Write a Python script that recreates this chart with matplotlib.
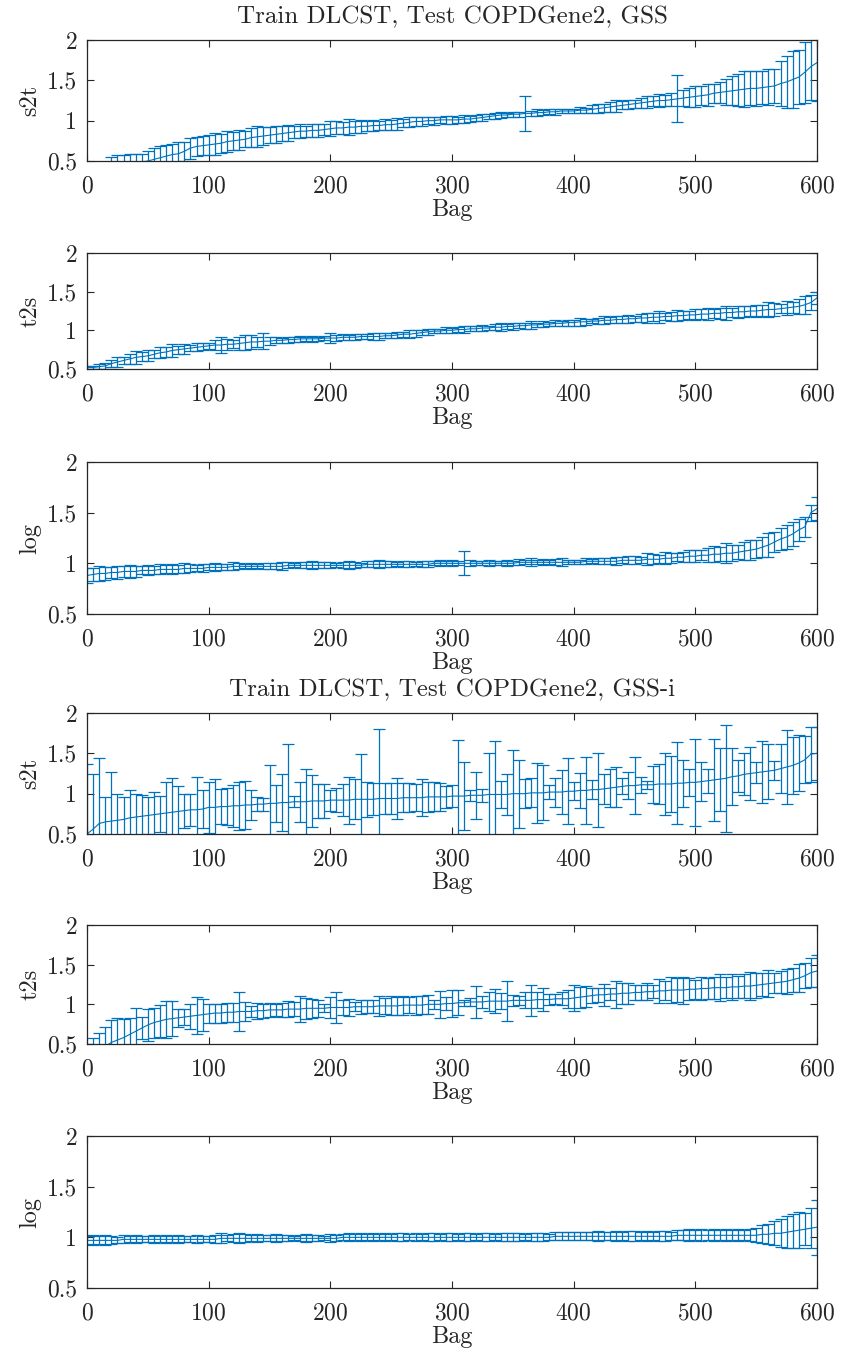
import numpy as np
import matplotlib
matplotlib.use("Agg")
import matplotlib.pyplot as plt

plt.rcParams['font.family'] = 'serif'
plt.rcParams['font.serif'] = ['cmr10', 'DejaVu Serif']
plt.rcParams['axes.formatter.use_mathtext'] = True

# bag index of every error bar (one bar every 5 bags)
bags = np.arange(0, 601, 5)

titles = ["Train DLCST, Test COPDGene2, GSS", "Train DLCST, Test COPDGene2, GSS-i"]
ylabels = ["s2t", "t2s", "log"]
yticks = [0.5, 1, 1.5, 2]
yticklabels = ["0.5", "1", "1.5", "2"]
xticks = [0, 100, 200, 300, 400, 500, 600]

# ---- GSS ----
gss_s2t_mean = [0.25, 0.30, 0.34, 0.37, 0.41, 0.44, 0.46, 0.47, 0.48, 0.49,
                0.50, 0.52, 0.54, 0.56, 0.58, 0.59, 0.62, 0.66, 0.68, 0.69,
                0.70, 0.71, 0.72, 0.74, 0.75, 0.76, 0.77, 0.79, 0.80, 0.81,
                0.82, 0.83, 0.84, 0.85, 0.86, 0.87, 0.87, 0.88, 0.88, 0.89,
                0.90, 0.91, 0.91, 0.92, 0.92, 0.93, 0.93, 0.94, 0.94, 0.95,
                0.95, 0.96, 0.97, 0.98, 0.99, 0.99, 1.00, 1.00, 1.01, 1.01,
                1.01, 1.01, 1.02, 1.02, 1.03, 1.04, 1.05, 1.06, 1.07, 1.07,
                1.08, 1.08, 1.09, 1.09, 1.10, 1.10, 1.11, 1.11, 1.12, 1.12,
                1.12, 1.13, 1.13, 1.14, 1.15, 1.16, 1.17, 1.18, 1.19, 1.20,
                1.21, 1.22, 1.23, 1.24, 1.25, 1.25, 1.26, 1.27, 1.28, 1.29,
                1.30, 1.31, 1.32, 1.34, 1.35, 1.36, 1.37, 1.38, 1.39, 1.40,
                1.40, 1.41, 1.42, 1.43, 1.46, 1.48, 1.51, 1.54, 1.60, 1.67,
                1.72]
gss_s2t_err = [0.12, 0.12, 0.12, 0.12, 0.14, 0.13, 0.12, 0.12, 0.11, 0.10,
               0.12, 0.14, 0.15, 0.14, 0.13, 0.15, 0.12, 0.13, 0.12, 0.12,
               0.12, 0.14, 0.12, 0.13, 0.11, 0.12, 0.10, 0.12, 0.13, 0.11,
               0.10, 0.11, 0.09, 0.10, 0.08, 0.09, 0.07, 0.08, 0.08, 0.07,
               0.09, 0.08, 0.07, 0.10, 0.07, 0.08, 0.06, 0.07, 0.06, 0.07,
               0.06, 0.07, 0.05, 0.06, 0.05, 0.05, 0.04, 0.05, 0.04, 0.05,
               0.05, 0.04, 0.05, 0.04, 0.04, 0.04, 0.03, 0.04, 0.04, 0.03,
               0.03, 0.03, 0.22, 0.03, 0.04, 0.03, 0.03, 0.04, 0.03, 0.03,
               0.03, 0.04, 0.03, 0.05, 0.06, 0.05, 0.06, 0.07, 0.05, 0.06,
               0.05, 0.06, 0.07, 0.06, 0.08, 0.07, 0.08, 0.29, 0.10, 0.12,
               0.13, 0.12, 0.14, 0.12, 0.13, 0.16, 0.18, 0.20, 0.22, 0.21,
               0.22, 0.20, 0.22, 0.21, 0.28, 0.32, 0.35, 0.33, 0.38, 0.42,
               0.48]
gss_t2s_mean = [0.52, 0.52, 0.53, 0.54, 0.57, 0.59, 0.61, 0.63, 0.65, 0.66,
                0.67, 0.69, 0.71, 0.72, 0.74, 0.75, 0.76, 0.77, 0.78, 0.79,
                0.80, 0.81, 0.81, 0.82, 0.82, 0.83, 0.84, 0.85, 0.85, 0.86,
                0.86, 0.87, 0.87, 0.88, 0.88, 0.89, 0.89, 0.89, 0.89, 0.90,
                0.90, 0.90, 0.91, 0.91, 0.91, 0.92, 0.92, 0.92, 0.92, 0.93,
                0.93, 0.94, 0.95, 0.95, 0.96, 0.97, 0.98, 0.99, 0.99, 1.00,
                1.00, 1.01, 1.01, 1.02, 1.02, 1.03, 1.03, 1.04, 1.04, 1.05,
                1.05, 1.06, 1.06, 1.07, 1.07, 1.08, 1.08, 1.09, 1.09, 1.10,
                1.10, 1.11, 1.11, 1.12, 1.12, 1.13, 1.13, 1.14, 1.14, 1.15,
                1.15, 1.16, 1.16, 1.17, 1.17, 1.18, 1.18, 1.19, 1.19, 1.20,
                1.20, 1.21, 1.21, 1.22, 1.22, 1.23, 1.23, 1.24, 1.24, 1.25,
                1.25, 1.26, 1.27, 1.27, 1.28, 1.29, 1.30, 1.31, 1.33, 1.36,
                1.42]
gss_t2s_err = [0.02, 0.02, 0.03, 0.04, 0.05, 0.07, 0.05, 0.06, 0.08, 0.06,
               0.07, 0.05, 0.07, 0.06, 0.08, 0.05, 0.06, 0.04, 0.05, 0.05,
               0.04, 0.06, 0.10, 0.07, 0.05, 0.08, 0.10, 0.09, 0.06, 0.10,
               0.05, 0.04, 0.03, 0.04, 0.03, 0.04, 0.03, 0.04, 0.03, 0.03,
               0.06, 0.04, 0.04, 0.03, 0.04, 0.03, 0.03, 0.04, 0.05, 0.03,
               0.03, 0.04, 0.03, 0.05, 0.04, 0.03, 0.04, 0.03, 0.03, 0.04,
               0.03, 0.03, 0.04, 0.03, 0.03, 0.04, 0.03, 0.04, 0.05, 0.03,
               0.04, 0.03, 0.04, 0.05, 0.03, 0.04, 0.03, 0.04, 0.03, 0.04,
               0.04, 0.05, 0.04, 0.03, 0.04, 0.05, 0.04, 0.05, 0.04, 0.05,
               0.04, 0.05, 0.06, 0.05, 0.08, 0.05, 0.06, 0.07, 0.06, 0.05,
               0.07, 0.06, 0.08, 0.06, 0.07, 0.09, 0.06, 0.08, 0.07, 0.06,
               0.08, 0.07, 0.10, 0.08, 0.06, 0.09, 0.07, 0.10, 0.12, 0.10,
               0.08]
gss_log_mean = [0.88, 0.89, 0.90, 0.90, 0.91, 0.91, 0.92, 0.92, 0.92, 0.93,
                0.93, 0.93, 0.94, 0.94, 0.94, 0.94, 0.95, 0.95, 0.95, 0.95,
                0.96, 0.96, 0.96, 0.96, 0.97, 0.97, 0.97, 0.97, 0.97, 0.97,
                0.97, 0.97, 0.97, 0.98, 0.98, 0.98, 0.98, 0.98, 0.98, 0.98,
                0.98, 0.98, 0.98, 0.98, 0.98, 0.98, 0.99, 0.99, 0.99, 0.99,
                0.99, 0.99, 0.99, 0.99, 0.99, 0.99, 0.99, 1.00, 1.00, 1.00,
                1.00, 1.00, 1.00, 1.00, 1.00, 1.00, 1.00, 1.00, 1.00, 1.00,
                1.00, 1.01, 1.01, 1.01, 1.01, 1.01, 1.01, 1.01, 1.01, 1.01,
                1.01, 1.01, 1.02, 1.02, 1.02, 1.02, 1.02, 1.02, 1.03, 1.03,
                1.03, 1.03, 1.04, 1.04, 1.04, 1.05, 1.05, 1.06, 1.06, 1.07,
                1.07, 1.08, 1.08, 1.09, 1.09, 1.10, 1.10, 1.11, 1.12, 1.13,
                1.14, 1.16, 1.18, 1.21, 1.24, 1.26, 1.29, 1.33, 1.36, 1.50,
                1.54]
gss_log_err = [0.07, 0.06, 0.07, 0.06, 0.05, 0.06, 0.05, 0.06, 0.05, 0.04,
               0.05, 0.04, 0.05, 0.04, 0.05, 0.04, 0.05, 0.04, 0.03, 0.04,
               0.03, 0.04, 0.03, 0.03, 0.04, 0.03, 0.02, 0.03, 0.02, 0.03,
               0.03, 0.03, 0.04, 0.03, 0.02, 0.03, 0.03, 0.04, 0.03, 0.03,
               0.03, 0.02, 0.03, 0.04, 0.03, 0.02, 0.03, 0.03, 0.04, 0.03,
               0.03, 0.02, 0.03, 0.03, 0.02, 0.03, 0.03, 0.02, 0.03, 0.02,
               0.03, 0.02, 0.12, 0.03, 0.02, 0.02, 0.03, 0.02, 0.02, 0.03,
               0.02, 0.03, 0.02, 0.04, 0.02, 0.03, 0.02, 0.03, 0.04, 0.02,
               0.02, 0.02, 0.03, 0.02, 0.03, 0.03, 0.03, 0.04, 0.03, 0.04,
               0.04, 0.03, 0.06, 0.05, 0.04, 0.06, 0.05, 0.04, 0.05, 0.06,
               0.06, 0.05, 0.07, 0.08, 0.07, 0.10, 0.08, 0.07, 0.09, 0.10,
               0.09, 0.10, 0.12, 0.10, 0.11, 0.12, 0.12, 0.11, 0.10, 0.08,
               0.11]

# ---- GSS-i ----
gssi_s2t_mean = [0.50, 0.56, 0.63, 0.65, 0.66, 0.67, 0.68, 0.70, 0.71, 0.72,
                 0.73, 0.74, 0.75, 0.76, 0.77, 0.78, 0.79, 0.80, 0.80, 0.81,
                 0.83, 0.83, 0.84, 0.84, 0.85, 0.85, 0.86, 0.86, 0.87, 0.87,
                 0.88, 0.88, 0.89, 0.89, 0.90, 0.90, 0.90, 0.91, 0.91, 0.91,
                 0.92, 0.92, 0.92, 0.92, 0.93, 0.93, 0.93, 0.93, 0.94, 0.94,
                 0.94, 0.94, 0.95, 0.95, 0.95, 0.95, 0.96, 0.96, 0.96, 0.96,
                 0.97, 0.97, 0.97, 0.98, 0.98, 0.98, 0.99, 0.99, 0.99, 0.99,
                 1.00, 1.00, 1.00, 1.01, 1.01, 1.01, 1.02, 1.02, 1.02, 1.03,
                 1.03, 1.04, 1.04, 1.05, 1.05, 1.06, 1.07, 1.08, 1.09, 1.10,
                 1.10, 1.11, 1.11, 1.11, 1.12, 1.12, 1.12, 1.13, 1.13, 1.14,
                 1.14, 1.15, 1.16, 1.17, 1.18, 1.19, 1.21, 1.22, 1.24, 1.25,
                 1.26, 1.27, 1.28, 1.29, 1.31, 1.33, 1.35, 1.38, 1.42, 1.49,
                 1.50]
gssi_s2t_err = [0.87, 0.69, 0.81, 0.31, 0.61, 0.32, 0.28, 0.34, 0.29, 0.26,
                0.23, 0.28, 0.22, 0.38, 0.43, 0.31, 0.21, 0.20, 0.41, 0.24,
                0.32, 0.35, 0.22, 0.23, 0.26, 0.30, 0.30, 0.19, 0.09, 0.08,
                0.47, 0.23, 0.35, 0.72, 0.07, 0.25, 0.41, 0.32, 0.21, 0.21,
                0.13, 0.15, 0.20, 0.29, 0.25, 0.56, 0.22, 0.20, 0.86, 0.19,
                0.19, 0.26, 0.18, 0.18, 0.17, 0.23, 0.19, 0.18, 0.17, 0.14,
                0.14, 0.70, 0.42, 0.07, 0.29, 0.08, 0.52, 0.66, 0.17, 0.25,
                0.54, 0.42, 0.18, 0.18, 0.37, 0.34, 0.09, 0.18, 0.27, 0.41,
                0.11, 0.22, 0.41, 0.12, 0.46, 0.19, 0.24, 0.25, 0.10, 0.17,
                0.35, 0.10, 0.05, 0.23, 0.25, 0.39, 0.35, 0.51, 0.29, 0.17,
                0.54, 0.24, 0.15, 0.51, 0.39, 0.66, 0.35, 0.20, 0.26, 0.33,
                0.13, 0.38, 0.34, 0.12, 0.30, 0.46, 0.35, 0.35, 0.29, 0.34,
                0.33]
gssi_t2s_mean = [0.35, 0.38, 0.42, 0.47, 0.52, 0.55, 0.58, 0.62, 0.66, 0.70,
                 0.74, 0.77, 0.79, 0.81, 0.82, 0.83, 0.84, 0.85, 0.86, 0.87,
                 0.88, 0.89, 0.89, 0.90, 0.90, 0.91, 0.91, 0.91, 0.92, 0.92,
                 0.93, 0.93, 0.93, 0.94, 0.94, 0.94, 0.95, 0.95, 0.95, 0.95,
                 0.96, 0.96, 0.96, 0.96, 0.97, 0.97, 0.97, 0.97, 0.98, 0.98,
                 0.98, 0.98, 0.99, 0.99, 0.99, 0.99, 1.00, 1.00, 1.00, 1.01,
                 1.01, 1.02, 1.02, 1.03, 1.03, 1.03, 1.04, 1.04, 1.04, 1.04,
                 1.05, 1.05, 1.05, 1.05, 1.06, 1.06, 1.06, 1.07, 1.07, 1.07,
                 1.08, 1.09, 1.10, 1.11, 1.12, 1.12, 1.13, 1.13, 1.14, 1.14,
                 1.15, 1.15, 1.16, 1.16, 1.17, 1.17, 1.18, 1.18, 1.18, 1.19,
                 1.19, 1.20, 1.20, 1.21, 1.21, 1.21, 1.22, 1.22, 1.23, 1.23,
                 1.24, 1.25, 1.26, 1.27, 1.28, 1.29, 1.31, 1.33, 1.36, 1.40,
                 1.42]
gssi_t2s_err = [0.15, 0.19, 0.22, 0.25, 0.28, 0.28, 0.24, 0.21, 0.29, 0.14,
                0.20, 0.19, 0.20, 0.23, 0.22, 0.11, 0.10, 0.16, 0.23, 0.20,
                0.12, 0.12, 0.12, 0.12, 0.12, 0.24, 0.12, 0.07, 0.10, 0.09,
                0.09, 0.08, 0.09, 0.10, 0.09, 0.16, 0.13, 0.12, 0.11, 0.05,
                0.13, 0.20, 0.10, 0.11, 0.06, 0.09, 0.08, 0.08, 0.13, 0.10,
                0.12, 0.11, 0.12, 0.10, 0.12, 0.11, 0.12, 0.06, 0.17, 0.08,
                0.17, 0.16, 0.04, 0.05, 0.20, 0.08, 0.12, 0.15, 0.10, 0.25,
                0.07, 0.06, 0.10, 0.20, 0.10, 0.14, 0.07, 0.06, 0.08, 0.11,
                0.17, 0.13, 0.13, 0.09, 0.09, 0.14, 0.08, 0.17, 0.13, 0.13,
                0.09, 0.10, 0.11, 0.08, 0.15, 0.12, 0.16, 0.15, 0.17, 0.14,
                0.12, 0.15, 0.13, 0.14, 0.17, 0.13, 0.16, 0.14, 0.15, 0.18,
                0.16, 0.15, 0.17, 0.13, 0.14, 0.16, 0.15, 0.18, 0.16, 0.18,
                0.20]
gssi_log_mean = [0.97, 0.97, 0.97, 0.97, 0.97, 0.97, 0.98, 0.98, 0.98, 0.98,
                 0.98, 0.98, 0.98, 0.98, 0.98, 0.98, 0.98, 0.98, 0.98, 0.98,
                 0.98, 0.98, 0.99, 0.99, 0.99, 0.99, 0.99, 0.99, 0.99, 0.99,
                 0.99, 0.99, 0.99, 0.99, 0.99, 0.99, 0.99, 0.99, 0.99, 0.99,
                 0.99, 0.99, 1.00, 1.00, 1.00, 1.00, 1.00, 1.00, 1.00, 1.00,
                 1.00, 1.00, 1.00, 1.00, 1.00, 1.00, 1.00, 1.00, 1.00, 1.00,
                 1.00, 1.00, 1.00, 1.00, 1.00, 1.00, 1.00, 1.00, 1.00, 1.00,
                 1.00, 1.00, 1.00, 1.00, 1.00, 1.00, 1.00, 1.01, 1.01, 1.01,
                 1.01, 1.01, 1.01, 1.01, 1.01, 1.01, 1.01, 1.01, 1.01, 1.01,
                 1.01, 1.01, 1.01, 1.01, 1.01, 1.01, 1.01, 1.02, 1.02, 1.02,
                 1.02, 1.02, 1.02, 1.02, 1.02, 1.02, 1.02, 1.02, 1.02, 1.02,
                 1.02, 1.03, 1.03, 1.04, 1.04, 1.05, 1.06, 1.07, 1.08, 1.09,
                 1.10]
gssi_log_err = [0.04, 0.05, 0.04, 0.05, 0.04, 0.03, 0.04, 0.03, 0.04, 0.03,
                0.03, 0.04, 0.03, 0.04, 0.03, 0.04, 0.03, 0.03, 0.04, 0.03,
                0.03, 0.04, 0.05, 0.03, 0.04, 0.05, 0.04, 0.03, 0.04, 0.03,
                0.03, 0.04, 0.03, 0.03, 0.02, 0.03, 0.04, 0.03, 0.03, 0.02,
                0.04, 0.03, 0.03, 0.04, 0.03, 0.04, 0.03, 0.04, 0.03, 0.04,
                0.03, 0.04, 0.04, 0.03, 0.04, 0.03, 0.04, 0.04, 0.03, 0.04,
                0.04, 0.03, 0.04, 0.04, 0.03, 0.04, 0.04, 0.03, 0.04, 0.04,
                0.04, 0.04, 0.03, 0.04, 0.04, 0.04, 0.03, 0.04, 0.04, 0.04,
                0.04, 0.04, 0.04, 0.04, 0.05, 0.04, 0.04, 0.05, 0.04, 0.05,
                0.05, 0.04, 0.05, 0.04, 0.05, 0.05, 0.04, 0.05, 0.05, 0.06,
                0.05, 0.06, 0.05, 0.06, 0.05, 0.06, 0.05, 0.06, 0.05, 0.06,
                0.07, 0.09, 0.10, 0.12, 0.14, 0.16, 0.17, 0.18, 0.16, 0.20,
                0.27]

means = [gss_s2t_mean, gss_t2s_mean, gss_log_mean,
         gssi_s2t_mean, gssi_t2s_mean, gssi_log_mean]
errs = [gss_s2t_err, gss_t2s_err, gss_log_err,
        gssi_s2t_err, gssi_t2s_err, gssi_log_err]

# axes boxes (top, bottom) in pixels of the 841x1355 canvas
W, H = 841, 1355
boxes_px = [(40, 161), (253, 369), (462, 614), (713, 834), (925, 1044), (1136, 1288)]

fig = plt.figure(figsize=(W / 100, H / 100), dpi=100)
blue = '#0072BD'
axcol = '#262626'

for k in range(6):
    top, bot = boxes_px[k]
    ax = fig.add_axes([87 / W, 1 - bot / H, 730 / W, (bot - top) / H])
    ax.errorbar(bags, means[k], yerr=errs[k], color=blue, lw=0.8,
                elinewidth=0.9, capsize=4, capthick=0.9)
    ax.set_xlim(0, 600)
    ax.set_ylim(0.5, 2)
    ax.set_xticks(xticks)
    ax.set_yticks(yticks)
    ax.set_yticklabels(yticklabels)
    ax.tick_params(direction='in', top=True, right=True, length=5, width=0.8,
                   labelsize=17, colors=axcol)
    ax.tick_params(axis='x', pad=10)
    ax.tick_params(axis='y', pad=7)
    for s in ax.spines.values():
        s.set_color(axcol)
        s.set_linewidth(0.9)
    ax.set_xlabel("Bag", fontsize=17.5, color=axcol, labelpad=1)
    ax.set_ylabel(ylabels[k % 3], fontsize=17.5, color=axcol, labelpad=4)
    if k % 3 == 0:
        ax.set_title(titles[k // 3], fontsize=18, color=axcol, pad=12)

fig.savefig("out.png", dpi=100)
